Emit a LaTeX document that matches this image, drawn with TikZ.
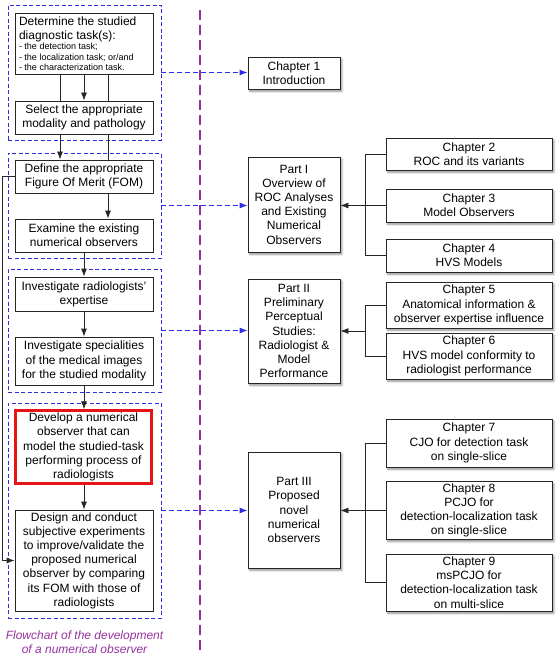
\documentclass[tikz,border=0pt]{standalone}
\usepackage{fontspec}
\setmainfont{Liberation Sans}
\usetikzlibrary{arrows.meta,shadows.blur}
\definecolor{dashblue}{RGB}{45,45,225}
\definecolor{purp}{RGB}{150,50,160}
\definecolor{boxred}{RGB}{230,20,20}
\begin{document}
\begin{tikzpicture}[x=1pt,y=-1pt,
  fbox/.style={draw=black!85, line width=0.8pt, fill=white, inner sep=2pt,
    font=\fontsize{12}{14.2}\selectfont, align=center},
  rbox/.style={fbox, line width=0.9pt,
    blur shadow={shadow xshift=1.8pt, shadow yshift=-2.2pt, shadow blur steps=6, shadow opacity=45}},
  grp/.style={draw=dashblue, line width=0.8pt, dash pattern=on 4pt off 2.5pt},
  conn/.style={draw=black!85, line width=0.8pt},
  arr/.style={conn, -{Latex[length=8pt,width=6pt]}},
  barr/.style={draw=dashblue, line width=0.9pt, dash pattern=on 5pt off 3pt,
    -{Latex[length=8pt,width=6pt]}},
]
\useasboundingbox (0,0) rectangle (557,655);

% purple separator
\coordinate (ptop) at (200,10);
\coordinate (pbot) at (200,655);
\draw[purp, line width=1.2pt, dash pattern=on 10pt off 5pt] (ptop) -- (pbot);

% group boxes
\node[grp, minimum width=153pt, minimum height=135pt] (g1) at (84.5,72.5) {};
\node[grp, minimum width=153pt, minimum height=105pt] (g2) at (84.5,205.5) {};
\node[grp, minimum width=153pt, minimum height=123pt] (g3) at (84.5,330.5) {};
\node[grp, minimum width=153pt, minimum height=215pt] (g4) at (84.5,510.5) {};

% left flowchart boxes
\node[draw=black!85, line width=0.8pt, fill=white, inner sep=0pt, minimum width=138pt, minimum height=61pt] (det) at (84,43.5)
  {\parbox[c]{130pt}{\raggedright\fontsize{12}{14}\selectfont
   Determine the studied\\diagnostic task(s):\par\vspace{0.5pt}\fontsize{9}{10.3}\selectfont
   - the detection task;\\- the localization task; or/and\\- the characterization task.}};
\node[fbox, minimum width=138pt, minimum height=33pt] (sel) at (84,117.5)
  {Select the appropriate\\modality and pathology};
\node[fbox, minimum width=138pt, minimum height=33pt] (def) at (84,176.5)
  {Define the appropriate\\Figure Of Merit (FOM)};
\node[fbox, minimum width=138pt, minimum height=33pt] (exa) at (84,235.5)
  {Examine the existing\\numerical observers};
\node[fbox, minimum width=138pt, minimum height=34pt] (inr) at (84,294)
  {Investigate radiologists'\\expertise};
\node[fbox, minimum width=138pt, minimum height=48pt] (ins) at (84,361)
  {Investigate specialities\\of the medical images\\for the studied modality};
\node[fbox, draw=boxred, line width=2.4pt, minimum width=136pt, minimum height=73pt] (dev) at (83.5,447)
  {Develop a numerical\\observer that can\\model the studied-task\\performing process of\\radiologists};
\node[fbox, minimum width=138pt, minimum height=101pt] (des) at (84,560.5)
  {Design and conduct\\subjective experiments\\to improve/validate the\\proposed numerical\\observer by comparing\\its FOM with those of\\radiologists};

% caption
\node[purp, font=\fontsize{12}{14}\selectfont\itshape, align=center] (cap) at (84.5,642)
  {Flowchart of the development\\of a numerical observer};

% left connectors
\draw[conn] (det.south -| 60,0) -- (sel.north -| 60,0);
\draw[arr]  (det.south) -- (sel.north);
\draw[conn] (det.south -| 108,0) -- (sel.north -| 108,0);
\draw[arr]  (sel.south -| 60,0) -- (def.north -| 60,0);
\draw[conn] (sel.south -| 108,0) -- (def.north -| 108,0);
\draw[arr]  (def.south -| 108,0) -- (exa.north -| 108,0);
\draw[arr]  (exa.south) -- (inr.north);
\draw[arr]  (inr.south) -- (ins.north);
\draw[arr]  (ins.south) -- (dev.north -| ins.south);
\draw[arr]  (dev.south -| des.north) -- (des.north);
\coordinate (lt) at (2,0);
\draw[arr]  (def.west) -- (def.west -| lt) -- (des.west -| lt) -- (des.west);

% right: parts
\node[rbox, minimum width=92pt, minimum height=32pt] (ch1) at (294,73) {Chapter 1\\Introduction};
\node[rbox, minimum width=92pt, minimum height=95pt] (p1) at (294,204.5)
  {Part I\\Overview of\\ROC Analyses\\and Existing\\Numerical\\Observers};
\node[rbox, minimum width=92pt, minimum height=104pt] (p2) at (294,331)
  {Part II\\Preliminary\\Perceptual\\Studies:\\Radiologist \&\\Model\\Performance};
\node[rbox, minimum width=92pt, minimum height=116pt] (p3) at (294,510)
  {Part III\\Proposed\\novel\\numerical\\observers};

% right: chapters
\node[rbox, minimum width=166pt, minimum height=32pt] (ch2) at (469,154) {Chapter 2\\ROC and its variants};
\node[rbox, minimum width=166pt, minimum height=33pt] (ch3) at (469,205.5) {Chapter 3\\Model Observers};
\node[rbox, minimum width=166pt, minimum height=33pt] (ch4) at (469,255.5) {Chapter 4\\HVS Models};
\node[rbox, minimum width=166pt, minimum height=46pt] (ch5) at (469,305)
  {Chapter 5\\Anatomical information \&\\observer expertise influence};
\node[rbox, minimum width=166pt, minimum height=46pt] (ch6) at (469,356)
  {Chapter 6\\HVS model conformity to\\radiologist performance};
\node[rbox, minimum width=166pt, minimum height=48pt] (ch7) at (469,443)
  {Chapter 7\\CJO for detection task\\on single-slice};
\node[rbox, minimum width=166pt, minimum height=57pt] (ch8) at (469,510.5)
  {Chapter 8\\PCJO for\\detection-localization task\\on single-slice};
\node[rbox, minimum width=166pt, minimum height=57pt] (ch9) at (469,582.5)
  {Chapter 9\\msPCJO for\\detection-localization task\\on multi-slice};

% blue dashed arrows
\draw[barr] (g1.east) -- (g1.east -| ch1.west);
\draw[barr] (g2.east) -- (g2.east -| p1.west);
\draw[barr] (g3.east) -- (g3.east -| p2.west);
\draw[barr] (g4.east) -- (g4.east -| p3.west);

% brackets
\coordinate (bx) at (365,0);
\draw[conn] (ch2.west) -- (ch2.west -| bx) -- (ch4.west -| bx) -- (ch4.west);
\draw[arr]  (ch3.west) -- (p1.east |- ch3.west);
\draw[conn] (ch5.west) -- (ch5.west -| bx) -- (ch6.west -| bx) -- (ch6.west);
\coordinate (b2) at (365,331);
\draw[arr]  (b2) -- (p2.east |- b2);
\draw[conn] (ch7.west) -- (ch7.west -| bx) -- (ch9.west -| bx) -- (ch9.west);
\draw[arr]  (ch8.west) -- (p3.east |- ch8.west);
\end{tikzpicture}
\end{document}
